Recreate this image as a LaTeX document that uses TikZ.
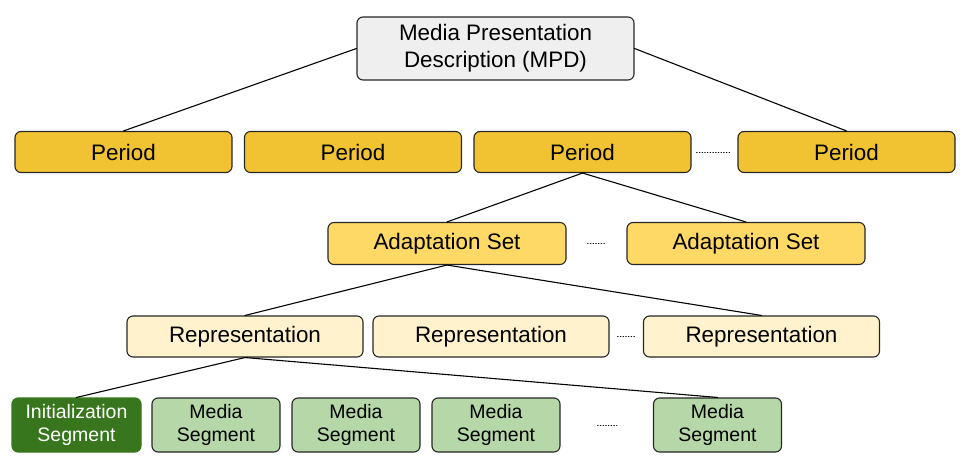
\documentclass[tikz,border=0pt]{standalone}
\usepackage{fontspec}
\setmainfont{Liberation Sans}
\usepackage{xcolor}

\definecolor{mpdgray}{HTML}{EFEFEF}
\definecolor{periodgold}{HTML}{F1C232}
\definecolor{adaptyellow}{HTML}{FFD966}
\definecolor{reprcream}{HTML}{FFF2CC}
\definecolor{initgreen}{HTML}{38761D}
\definecolor{mediagreen}{HTML}{B6D7A8}

\begin{document}
\begin{tikzpicture}[x=1pt,y=-1pt,line cap=round,line join=round,line width=1.1pt,
    box/.style={draw=black!85,rounded corners=6pt,inner sep=0pt,align=center,
        font=\fontsize{22.4}{27}\selectfont},
    period/.style={box,fill=periodgold,minimum width=217pt,minimum height=41pt},
    adapt/.style={box,fill=adaptyellow,minimum width=238pt,minimum height=42pt},
    repr/.style={box,fill=reprcream,minimum width=236pt,minimum height=41pt},
    seg/.style={box,fill=mediagreen,minimum width=128pt,minimum height=54pt,
        font=\fontsize{19.5}{23}\selectfont},
    more/.style={dotted,line width=0.7pt}]
\useasboundingbox (0,0) rectangle (962,476);

% MPD
\node[box,fill=mpdgray,minimum width=277pt,minimum height=63pt] (mpd) at (495.5,48.5)
    {Media Presentation\\Description (MPD)};

% periods
\node[period] (per1) at (123.5,152) {Period};
\node[period] (per2) at (353,152) {Period};
\node[period] (per3) at (582.5,152) {Period};
\node[period] (per4) at (846.5,152) {Period};

% adaptation sets
\node[adapt] (as1) at (447,243.5) {Adaptation Set};
\node[adapt] (as2) at (746,243.5) {Adaptation Set};

% representations
\node[repr] (rep1) at (245,336.5) {Representation};
\node[repr] (rep2) at (491,336.5) {Representation};
\node[repr] (rep3) at (761.5,336.5) {Representation};

% segments
\node[seg,fill=initgreen,text=white,draw=initgreen,minimum width=129pt] (init) at (76.5,425)
    {Initialization\\Segment};
\node[seg] (ms1) at (216,425) {Media\\Segment};
\node[seg] (ms2) at (356,425) {Media\\Segment};
\node[seg] (ms3) at (496,425) {Media\\Segment};
\node[seg] (ms4) at (717.5,425) {Media\\Segment};

% tree lines
\draw (mpd.west) -- (per1.north);
\draw (mpd.east) -- (per4.north);
\draw (per3.south) -- (as1.north);
\draw (per3.south) -- (as2.north);
\draw (as1.south) -- (rep1.north);
\draw (as1.south) -- (rep3.north);
\draw (rep1.south) -- (init.north);
\draw (rep1.south) -- (ms4.north);

% dots
\draw[more,shorten <=5pt,shorten >=6pt] (per3) -- (per4);
\draw[more,shorten <=21pt,shorten >=21pt] (as1) -- (as2);
\draw[more,shorten <=8pt,shorten >=7pt] (rep2) -- (rep3);
\draw[more,shorten <=37pt,shorten >=36pt] (ms3) -- (ms4);
\end{tikzpicture}
\end{document}
